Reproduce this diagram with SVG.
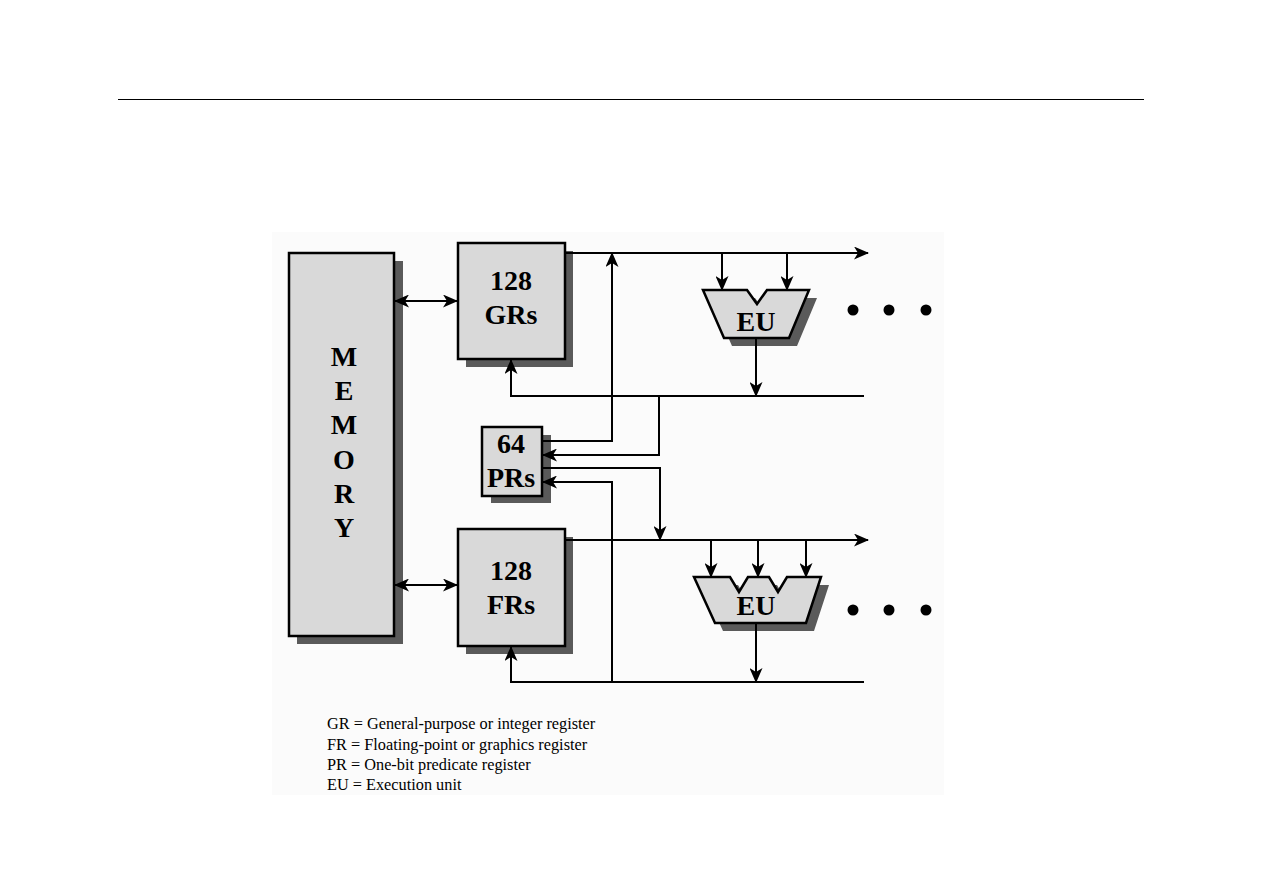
<svg xmlns="http://www.w3.org/2000/svg" width="1263" height="893" viewBox="0 0 1263 893">
<defs>
<marker id="ah" markerUnits="userSpaceOnUse" markerWidth="15" markerHeight="13" refX="14" refY="6.5" orient="auto-start-reverse" viewBox="0 0 15 13">
<path d="M0,0 L15,6.5 L0,13 L4,6.5 z" fill="#000"/>
</marker>
</defs>
<style>
.box{fill:#d9d9d9;stroke:#000;stroke-width:2.5}
.sh{fill:#5a5a5a}
.lbl{font-family:"Liberation Serif","Times New Roman",serif;font-weight:bold;font-size:28px;text-anchor:middle;fill:#000}
.leg{font-family:"Liberation Serif","Times New Roman",serif;font-size:16.3px;fill:#000}
.c{fill:none;stroke:#000;stroke-width:2}
.a{marker-end:url(#ah)}
.dot{fill:#000}
</style>
<rect x="0" y="0" width="1263" height="893" fill="#fff"/>
<rect x="272" y="232" width="672" height="563" fill="#fbfbfb"/>
<line x1="118" y1="99.5" x2="1144" y2="99.5" stroke="#000" stroke-width="1"/>

<g id="memory">
<rect class="sh" x="297" y="261" width="106" height="383"/>
<rect class="box" x="289" y="253" width="105" height="383"/>
<text class="lbl" x="344" y="366">M</text>
<text class="lbl" x="344" y="400">E</text>
<text class="lbl" x="344" y="434">M</text>
<text class="lbl" x="344" y="469">O</text>
<text class="lbl" x="344" y="503">R</text>
<text class="lbl" x="344" y="537">Y</text>
</g>

<g id="gr">
<rect class="sh" x="466" y="251" width="107" height="116"/>
<rect class="box" x="458" y="243" width="107" height="116"/>
<text class="lbl" x="511" y="290">128</text>
<text class="lbl" x="511" y="324">GRs</text>
</g>

<g id="pr">
<rect class="sh" x="491" y="435" width="60" height="68"/>
<rect class="box" x="482" y="427" width="60" height="69"/>
<text class="lbl" x="511" y="453">64</text>
<text class="lbl" x="511" y="487">PRs</text>
</g>

<g id="fr">
<rect class="sh" x="466" y="537" width="107" height="117"/>
<rect class="box" x="458" y="529" width="107" height="117"/>
<text class="lbl" x="511" y="580">128</text>
<text class="lbl" x="511" y="614">FRs</text>
</g>

<g id="eu1">
<polygon class="sh" points="711,298 755,298 765,312 775,298 817,298 797,346 732,346"/>
<polygon class="box" points="703,290 747,290 757,304 767,290 809,290 789,338 724,338"/>
<text class="lbl" x="756" y="331" font-size="27">EU</text>
</g>

<g id="eu2">
<polygon class="sh" points="702,585 738,585 747,600 756,585 777,585 786,600 795,585 829,585 814,631 723,631"/>
<polygon class="box" points="694,577 730,577 739,592 748,577 769,577 778,592 787,577 821,577 806,623 715,623"/>
<text class="lbl" x="756" y="615" font-size="27">EU</text>
</g>

<g id="dots1">
<circle class="dot" cx="853" cy="310" r="5.5"/>
<circle class="dot" cx="889" cy="310" r="5.5"/>
<circle class="dot" cx="926" cy="310" r="5.5"/>
</g>
<g id="dots2">
<circle class="dot" cx="853" cy="610" r="5.5"/>
<circle class="dot" cx="889" cy="610" r="5.5"/>
<circle class="dot" cx="926" cy="610" r="5.5"/>
</g>

<g id="connectors">
<path class="c a" d="M395,301 H457" style="marker-start:url(#ah)"/>
<path class="c a" d="M395,585 H457" style="marker-start:url(#ah)"/>
<path class="c a" d="M565,253 H868"/>
<path class="c a" d="M722,253 V290"/>
<path class="c a" d="M787,253 V290"/>
<path class="c a" d="M756,338 V396"/>
<path class="c a" d="M864,396 H511 V360"/>
<path class="c a" d="M659,396 V455 H543"/>
<path class="c a" d="M542,441 H612 V253"/>
<path class="c a" d="M542,468 H660 V540"/>
<path class="c a" d="M565,540 H868"/>
<path class="c a" d="M711,540 V577"/>
<path class="c a" d="M758,540 V577"/>
<path class="c a" d="M806,540 V577"/>
<path class="c a" d="M756,623 V682"/>
<path class="c a" d="M864,682 H511 V647"/>
<path class="c a" d="M612,682 V482 H543"/>
</g>

<g id="legend">
<text class="leg" x="327" y="729">GR = General-purpose or integer register</text>
<text class="leg" x="327" y="750">FR = Floating-point or graphics register</text>
<text class="leg" x="327" y="770">PR = One-bit predicate register</text>
<text class="leg" x="327" y="790">EU = Execution unit</text>
</g>
</svg>
